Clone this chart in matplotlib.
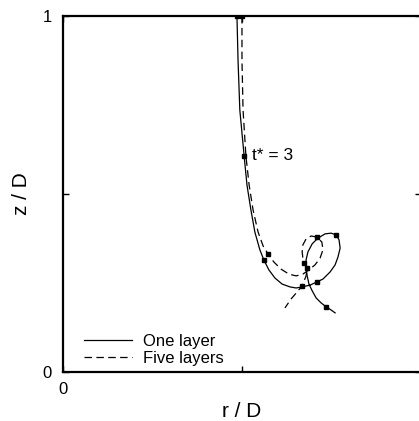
import matplotlib
matplotlib.use("Agg")
import matplotlib.pyplot as plt
from matplotlib import rcParams
from matplotlib.lines import Line2D

rcParams.update({"font.family": ["Liberation Sans", "DejaVu Sans"]})

# one layer (solid)
r_one = [0.486, 0.489, 0.494, 0.506, 0.514, 0.525, 0.536, 0.550, 0.561, 0.575,
         0.592, 0.612, 0.634, 0.651,
         0.668, 0.690, 0.709, 0.726, 0.746, 0.760, 0.768, 0.774, 0.771, 0.763,
         0.749, 0.732, 0.712, 0.696, 0.684, 0.679, 0.679, 0.682, 0.687, 0.696,
         0.707, 0.721, 0.735, 0.749, 0.760]
z_one = [1.000, 0.876, 0.736, 0.607, 0.525, 0.455, 0.393, 0.343, 0.315, 0.287,
         0.264, 0.247, 0.239, 0.236,
         0.239, 0.244, 0.253, 0.261, 0.281, 0.301, 0.323, 0.348, 0.371, 0.385,
         0.390, 0.388, 0.376, 0.360, 0.337, 0.315, 0.292, 0.270, 0.247, 0.228,
         0.208, 0.194, 0.183, 0.174, 0.166]
mark_one = [0, 3, 8, 16, 23, 36]

# five layers (dashed)
r_five = [0.500, 0.500, 0.503, 0.511, 0.520, 0.531, 0.545, 0.559, 0.573, 0.589,
          0.609, 0.631, 0.651, 0.670, 0.687, 0.704, 0.718, 0.726, 0.723, 0.709,
          0.693, 0.679, 0.670, 0.668, 0.670, 0.673, 0.682, 0.679, 0.668, 0.654,
          0.637, 0.620]
z_five = [1.000, 0.876, 0.736, 0.607, 0.525, 0.455, 0.393, 0.354, 0.331, 0.309,
          0.289, 0.275, 0.270, 0.275, 0.287, 0.301, 0.320, 0.343, 0.365, 0.379,
          0.382, 0.374, 0.357, 0.337, 0.320, 0.306, 0.292, 0.270, 0.242, 0.225,
          0.205, 0.180]
mark_five = [0, 8, 19, 25, 26, 28]

fig = plt.figure(figsize=(4.19, 4.21), dpi=100)
ax = fig.add_axes([0.150, 0.1164, 0.855, 0.8456])

ax.plot(r_one, z_one, '-', color='black', linewidth=0.9,
        marker='s', markersize=2.3, markevery=mark_one)
ax.plot(r_five, z_five, '--', color='black', linewidth=0.9, dashes=(6, 3.5),
        marker='s', markersize=2.8, markevery=mark_five)

ax.text(0.528, 0.607, 't* = 3', fontsize=12.5, va='center', ha='left')

ax.set_xlim(0, 1)
ax.set_ylim(0, 1)
ax.set_xticks([0, 0.5, 1])
ax.set_xticklabels(['0', '', ''])
ax.set_yticks([0, 0.5, 1])
ax.set_yticklabels(['0', '', '1'])
ax.tick_params(direction='in', length=4, width=1, labelsize=12, right=True, top=True)
ax.tick_params(axis='x', pad=7)
ax.tick_params(axis='y', pad=8)
for s in ax.spines.values():
    s.set_linewidth(1.6)

ax.set_xlabel('r / D', fontsize=15, labelpad=4)
ax.set_ylabel('z / D', fontsize=15, labelpad=8)

handles = [Line2D([], [], color='black', linewidth=0.9, linestyle='-'),
           Line2D([], [], color='black', linewidth=0.9, linestyle='--', dashes=(6, 3.5))]
ax.legend(handles, ['One layer', 'Five layers'], loc='lower left',
          bbox_to_anchor=(0.059, 0.018), frameon=False, fontsize=12,
          handlelength=2.9, labelspacing=0.12, handletextpad=0.65, borderaxespad=0,
          borderpad=0)

fig.savefig('out.png', dpi=100)
